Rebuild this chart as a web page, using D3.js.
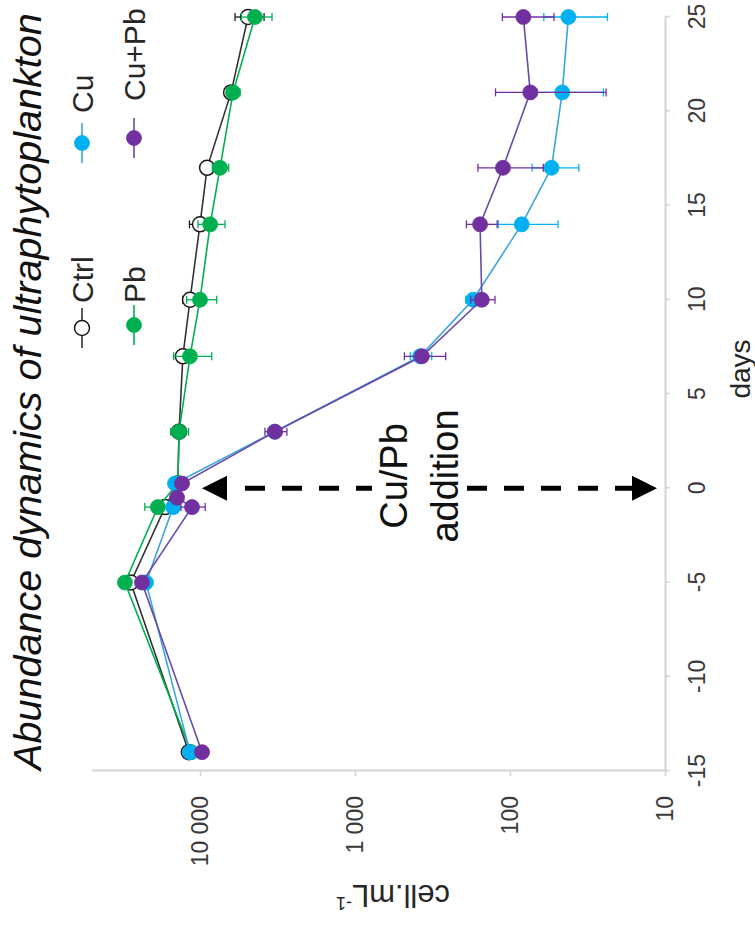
<!DOCTYPE html>
<html>
<head>
<meta charset="utf-8">
<script src="https://cdn.jsdelivr.net/npm/d3@7"></script>
<style>
  html, body { margin: 0; padding: 0; background: #fff; }
  svg { display: block; }
  text { font-family: "Liberation Sans", Arial, sans-serif; }
</style>
</head>
<body>
<script>
// Sampling days (day 0 = metal addition)
const days = [-14, -5, -1, -0.5, 0.25, 3, 7, 10, 14, 17, 21, 25];

// Mean abundance (cell.mL-1) and standard deviation per treatment
const ctrl     = [11800, 28000, 16800, null, 13900, 13650, 12900, 11600, 10000, 9000, 6300, 4900];
const ctrlSd   = [400, 900, 800, null, 500, 600, 700, 1300, 1700, 600, 500, 1040];
const pb       = [11400, 30500, 18700, null, 13900, 13650, 11600, 10000, 8600, 7430, 6120, 4420];
const pbSd     = [500, 1000, 4000, null, 600, 1800, 3200, 2200, 1700, 900, 600, 990];
const cu       = [11600, 22300, 14900, null, 14500, 3300, 380, 173, 84, 54, 46, 42];
const cuSd     = [400, 800, 900, null, 700, 300, 60, 20, 35, 18, 21, 18.5];
const cuPb     = [9700, 23700, 11260, 14070, 13060, 3280, 370, 152, 156, 111, 74, 82];
const cuPbSd   = [500, 900, 2000, 700, 800, 530, 110, 27, 35, 50, 50, 30];

const seriesNames = ["Ctrl", "Cu", "Pb", "Cu+Pb"];

// Axis ticks
const dayTicks = [-15, -10, -5, 0, 5, 10, 15, 20, 25];
const cellTicks = [10, 100, 1000, 10000];
const cellTickLabels = ["10", "100", "1 000", "10 000"];

const W = 755, H = 931;
const svg = d3.select("body").append("svg").attr("width", W).attr("height", H);
svg.append("rect").attr("width", W).attr("height", H).attr("fill", "#fff");

// The whole figure is drawn in a frame turned a quarter turn anticlockwise:
// frame width = page height, frame height = page width.
const g = svg.append("g").attr("transform", `translate(0,${H}) rotate(-90)`);

const x = d3.scaleLinear().domain([-15, 25]).range([160, 914]);
const y = d3.scaleLog().domain([10, 50000]).range([665, 665 - Math.log10(5000) * 155]);

const axisColor = "#d4d4d4";
const tickText = "#3a3a3a";

// days axis
const xAxis = d3.axisBottom(x).tickValues(dayTicks).tickSize(5).tickSizeOuter(0)
  .tickPadding(19).tickFormat(d => String(d));
const gx = g.append("g").attr("transform", `translate(0,${y.range()[0]})`).call(xAxis);

// cell abundance axis (log)
const yAxis = d3.axisLeft(y).tickValues(cellTicks).tickSize(5).tickSizeOuter(0)
  .tickPadding(20).tickFormat((d, i) => cellTickLabels[i]);
const gy = g.append("g").attr("transform", `translate(${x.range()[0]},0)`).call(yAxis);

[gx, gy].forEach(a => {
  a.select(".domain").attr("stroke", axisColor).attr("stroke-width", 2);
  a.selectAll(".tick line").attr("stroke", axisColor).attr("stroke-width", 1.5);
  a.selectAll(".tick text").attr("fill", tickText).attr("font-size", 23)
    .attr("font-family", '"Liberation Sans", Arial, sans-serif');
});

// axis titles
g.append("text").attr("x", 562).attr("y", 750).attr("text-anchor", "middle")
  .attr("font-size", 28).attr("fill", "#262626").text("days");

const yt = g.append("text").attr("transform", "translate(46,393) rotate(-90)")
  .attr("text-anchor", "middle").attr("font-size", 31).attr("fill", "#262626");
yt.append("tspan").text("cell.mL");
yt.append("tspan").attr("font-size", 18).attr("dy", -12).text("-1");

// title
g.append("text").attr("x", 161).attr("y", 41).attr("font-size", 39.6)
  .attr("font-style", "italic").attr("fill", "#111")
  .text("Abundance dynamics of ultraphytoplankton");

// addition marker: dashed double arrow at day 0
const u0 = x(0);
g.append("line").attr("x1", u0).attr("x2", u0).attr("y1", 245).attr("y2", 633)
  .attr("stroke", "#000").attr("stroke-width", 5).attr("stroke-dasharray", "20,17");
g.append("path").attr("d", `M${u0},202 L${u0 - 12.5},227 L${u0 + 12.5},227 Z`).attr("fill", "#000");
g.append("path").attr("d", `M${u0},657 L${u0 - 12.5},632 L${u0 + 12.5},632 Z`).attr("fill", "#000");

const note = g.append("g");
const noteBg = note.append("rect").attr("fill", "#fff");
const noteText = note.append("text").attr("font-size", 38).attr("fill", "#111").attr("text-anchor", "middle");
noteText.append("tspan").attr("x", 455).attr("y", 407).text("Cu/Pb");
noteText.append("tspan").attr("x", 455).attr("y", 458).text("addition");
const nb = noteText.node().getBBox();
noteBg.attr("x", u0 - 14).attr("width", 28).attr("y", nb.y - 1).attr("height", nb.height + 2);

// series
const series = [
  { name: "Ctrl",  vals: ctrl, sd: ctrlSd, color: "#1a1a1a", fill: "#fff",    line: "#333" },
  { name: "Pb",    vals: pb,   sd: pbSd,   color: "#00b050", fill: "#00b050", line: "#00b050" },
  { name: "Cu",    vals: cu,   sd: cuSd,   color: "#00b0f0", fill: "#00b0f0", line: "#3aa6dc" },
  { name: "Cu+Pb", vals: cuPb, sd: cuPbSd, color: "#7030a0", fill: "#7030a0", line: "#6a4aa8" }
];

const line = d3.line().x(p => x(p.d)).y(p => y(p.v));
const R = 7.5;

series.forEach(s => {
  const pts = days.map((d, i) => ({ d, v: s.vals[i], e: s.sd[i] })).filter(p => p.v != null);
  const sg = g.append("g");
  sg.append("path").datum(pts).attr("d", line).attr("fill", "none")
    .attr("stroke", s.line).attr("stroke-width", 1.6);
  const eb = sg.append("g").attr("stroke", s.color).attr("stroke-width", 1.3);
  pts.forEach(p => {
    const lo = Math.max(p.v - p.e, 10), hi = p.v + p.e;
    const cx = x(p.d);
    eb.append("line").attr("x1", cx).attr("x2", cx).attr("y1", y(lo)).attr("y2", y(hi));
    eb.append("line").attr("x1", cx - 4).attr("x2", cx + 4).attr("y1", y(lo)).attr("y2", y(lo));
    eb.append("line").attr("x1", cx - 4).attr("x2", cx + 4).attr("y1", y(hi)).attr("y2", y(hi));
  });
  sg.selectAll("circle").data(pts).join("circle")
    .attr("cx", p => x(p.d)).attr("cy", p => y(p.v)).attr("r", R)
    .attr("fill", s.fill).attr("stroke", s.color).attr("stroke-width", s.name === "Ctrl" ? 1.5 : 0.8);
});

// legend
const legendPos = {
  "Ctrl":  { u: 603, v: 82,  t: 628 },
  "Cu":    { u: 788, v: 82,  t: 818 },
  "Pb":    { u: 606, v: 134, t: 628 },
  "Cu+Pb": { u: 793, v: 134, t: 830 }
};
seriesNames.forEach(n => {
  const s = series.find(z => z.name === n);
  const p = legendPos[n];
  const lg = g.append("g");
  lg.append("line").attr("x1", p.u - 20).attr("x2", p.u + 20).attr("y1", p.v).attr("y2", p.v)
    .attr("stroke", s.line).attr("stroke-width", 1.6);
  lg.append("circle").attr("cx", p.u).attr("cy", p.v).attr("r", R)
    .attr("fill", s.fill).attr("stroke", s.color).attr("stroke-width", n === "Ctrl" ? 1.5 : 0.8);
  lg.append("text").attr("x", p.t).attr("y", p.v).attr("dy", "0.36em")
    .attr("font-size", 30).attr("fill", "#262626").text(n);
});
</script>
</body>
</html>
